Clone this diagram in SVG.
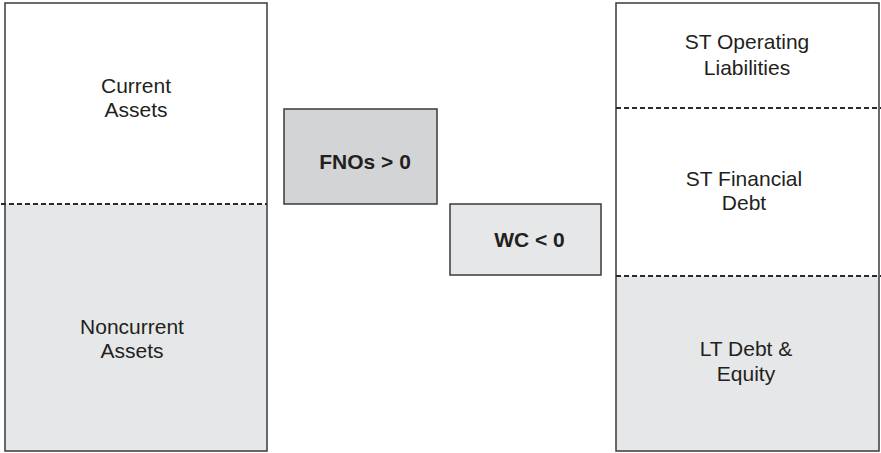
<svg xmlns="http://www.w3.org/2000/svg" width="881" height="453" viewBox="0 0 881 453">
  <style>
    .box { stroke: #3a3a3a; stroke-width: 1.5; }
    .white { fill: #ffffff; }
    .light { fill: #e6e7e8; }
    .mid { fill: #d3d4d6; }
    .split { stroke: #2a2a2a; stroke-width: 2; stroke-dasharray: 5 3; fill: none; }
    text { font-family: "Liberation Sans", Arial, sans-serif; font-size: 21px; fill: #231f20; text-anchor: middle; }
    .bold { font-weight: bold; }
  </style>

  <!-- Assets column -->
  <g id="assets">
    <rect class="white" x="5" y="3" width="262" height="201"/>
    <rect class="light" x="5" y="204" width="262" height="247"/>
    <rect class="box" x="5" y="3" width="262" height="448" fill="none"/>
    <line class="split" x1="1" y1="204" x2="267" y2="204"/>
    <text x="136" y="92.5">Current</text>
    <text x="136" y="116.5">Assets</text>
    <text x="132" y="334">Noncurrent</text>
    <text x="132" y="358">Assets</text>
  </g>

  <!-- Funds needed for operations -->
  <g id="fnos">
    <rect class="box mid" x="284" y="109" width="153" height="95"/>
    <text class="bold" x="365" y="169">FNOs &gt; 0</text>
  </g>

  <!-- Working capital -->
  <g id="wc">
    <rect class="box light" x="450" y="204" width="151" height="71"/>
    <text class="bold" x="529.5" y="246.5">WC &lt; 0</text>
  </g>

  <!-- Liabilities and equity column -->
  <g id="liabilities">
    <rect class="white" x="616" y="3" width="263" height="273"/>
    <rect class="light" x="616" y="276" width="263" height="175"/>
    <rect class="box" x="616" y="3" width="263" height="448" fill="none"/>
    <line class="split" x1="616" y1="108" x2="881" y2="108"/>
    <line class="split" x1="616" y1="276" x2="881" y2="276"/>
    <text x="747" y="48.5">ST Operating</text>
    <text x="747" y="75">Liabilities</text>
    <text x="744" y="185.5">ST Financial</text>
    <text x="744" y="210">Debt</text>
    <text x="746" y="355.5">LT Debt &amp;</text>
    <text x="746" y="381">Equity</text>
  </g>

  <g id="connectors"/>
</svg>
